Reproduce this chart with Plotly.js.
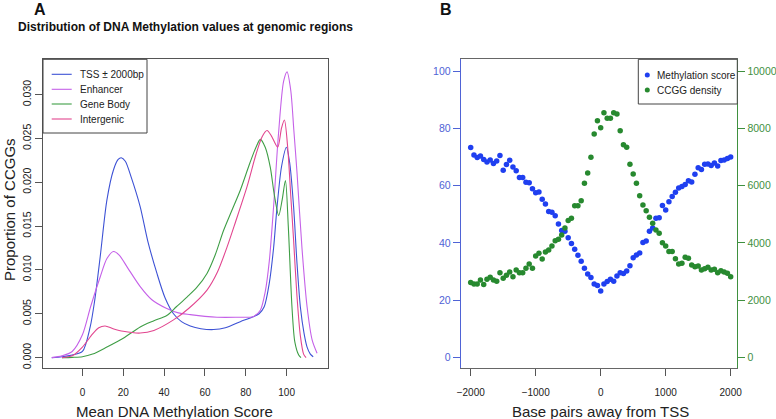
<!DOCTYPE html>
<html>
<head>
<meta charset="utf-8">
<script src="https://cdn.plot.ly/plotly-3.0.1.min.js"></script>
<style>html,body{margin:0;padding:0;background:#fff}#chart{width:776px;height:419px}</style>
</head>
<body>
<div id="chart"></div>
<script>
// ---------- Panel A: density curves ----------
const seriesNamesA = ["TSS \u00b1 2000bp", "Enhancer", "Gene Body", "Intergenic"];
const tssX = [-15,-10,-5,0,3.8,6,8.7,12,15.2,17.5,19,21,24,28.3,32,36.5,40.5,44.6,48.5,52.8,58,64.2,70,77.3,83,86.5,89,91.5,93.6,95.3,97.5,99.9,101.5,103.4,105,106.7,108.5,110,111.6,113];
const tssY = [0,0.0001,0.0003,0.0007,0.0035,0.0065,0.0115,0.018,0.0214,0.0226,0.0228,0.0224,0.0205,0.0172,0.0133,0.0096,0.0068,0.005,0.0041,0.0036,0.0033,0.0032,0.0034,0.0041,0.0046,0.005,0.0058,0.0085,0.0125,0.0172,0.0218,0.024,0.0222,0.0172,0.011,0.0058,0.0028,0.0012,0.0004,0.0001];
const enhX = [-15,-10,-5,0,4,8.7,12,15.2,18,22,28.3,34,41.3,47,52.8,60,65.9,75,83.8,87.1,89.5,91.5,93.6,96,98.5,100.2,102,103.5,105.1,107.5,110,112.5,114.9];
const enhY = [0,0.0002,0.0007,0.0026,0.0058,0.0092,0.0113,0.0121,0.0117,0.0103,0.0081,0.0066,0.0056,0.0051,0.0049,0.0047,0.0046,0.0046,0.0047,0.0054,0.0075,0.011,0.0172,0.0255,0.0315,0.0326,0.0305,0.026,0.021,0.0125,0.0058,0.002,0.0005];
const gbX = [-10,-5,0,5,12,20,28.3,35,41.3,46,51.2,56,61,65,69.1,73,77.3,82,85,87.1,89.5,92,94,96.1,97.8,99.4,100.8,102.6,104,105.9,107];
const gbY = [0,0.00003,0.0001,0.0004,0.0012,0.0022,0.0035,0.0042,0.0048,0.0058,0.0069,0.008,0.0096,0.0117,0.0145,0.0167,0.0191,0.0222,0.024,0.0249,0.024,0.0217,0.0185,0.0162,0.018,0.0202,0.015,0.0058,0.0018,0.0003,0];
const igX = [-10,-5,0,5,8,11.1,15,20,28.3,35,44.6,52,61,66,70.8,75,80.6,85,88,90.4,92.5,95.6,97.5,98.9,100.5,102,103.4,105,106.7,108.3,109.5];
const igY = [0,0.0002,0.0012,0.0027,0.0034,0.0036,0.0033,0.003,0.0028,0.0031,0.0043,0.0056,0.0077,0.0097,0.0126,0.0155,0.0195,0.0232,0.0252,0.0259,0.0253,0.024,0.0262,0.0271,0.024,0.0185,0.0134,0.0072,0.0025,0.0004,0];
const xTicksA = [0,20,40,60,80,100];
const yTicksA = [0,0.005,0.01,0.015,0.02,0.025,0.03];

// ---------- Panel B: scatter ----------
const seriesNamesB = ["Methylation score", "CCGG density"];
const bpPos = [-2000,-1950,-1900,-1850,-1800,-1750,-1700,-1650,-1600,-1550,-1500,-1450,-1400,-1350,-1300,-1250,-1200,-1150,-1100,-1050,-1000,-950,-900,-850,-800,-750,-700,-650,-600,-550,-500,-450,-400,-350,-300,-250,-200,-150,-100,-50,0,50,100,150,200,250,300,350,400,450,500,550,600,650,700,750,800,850,900,950,1000,1050,1100,1150,1200,1250,1300,1350,1400,1450,1500,1550,1600,1650,1700,1750,1800,1850,1900,1950,2000];
const methScore = [73.4,70.7,69.9,70.4,69.2,68.3,69.0,67.8,68.6,70.6,65.4,67.4,68.9,66.5,65.2,62.9,62.9,61.2,61.0,58.9,57.5,57.8,55.3,53.6,51.0,50.7,49.5,46.6,44.3,44.1,41.8,39.8,37.8,35.7,33.6,31.1,29.1,27.9,25.6,25.1,23.2,25.6,26.5,27.3,26.6,28.4,29.6,29.3,30.2,32.0,34.8,35.8,36.5,40.1,40.7,44.1,45.2,48.6,48.8,53.1,51.5,54.4,56.2,57.7,59.2,59.7,60.4,61.7,61.3,64.0,66.3,65.7,67.5,67.6,67.1,67.9,66.9,68.8,69.0,69.5,70.0];
const ccggDensity = [2611,2564,2564,2704,2541,2727,2797,2704,2657,2960,2762,2867,2984,2820,3054,2960,2960,3112,3263,3112,3543,3636,3438,3683,3753,3893,4079,4126,4277,4522,4779,4860,5303,5303,5478,6084,6445,6993,7809,8275,8030,8555,8357,8357,8555,8508,7925,7436,7343,6748,6410,6084,5653,5326,5128,4895,4685,4452,4336,4009,3893,3695,3695,3450,3263,3287,3497,3462,3228,3170,3193,3054,3100,3147,3054,3077,2960,3030,2984,2937,2820];
const xTicksB = [-2000,-1000,0,1000,2000];
const yTicksLeftB = [0,20,40,60,80,100];
const yTicksRightB = [0,2000,4000,6000,8000,10000];
const yTickTextRightB = ["0","2000","4000","6000","8000","10000"];

// ---------- styling ----------
const W = 776, H = 419;
const FONT = "Liberation Sans, Arial, Helvetica, sans-serif";
const colA = ["#3d52d5", "#c561e8", "#3f9e46", "#e2468f"];
const colMeth = "#1f3ff0", colCcgg = "#27892f";
const axLeftB = "#4f63d6", axRightB = "#3f903f";
const px = v => v / W, py = v => 1 - v / H;

const domAx = [px(43), px(327.5)];
const domBx = [px(460.7), px(737.3)];
const domY = [py(368.3), py(59.3)];

const lineTrace = (x, y, name, color) => ({
  type: "scatter", mode: "lines", x: x, y: y, name: name,
  line: {color: color, width: 1.1, shape: "spline", smoothing: 0.8},
  xaxis: "x", yaxis: "y", showlegend: false, hoverinfo: "skip"
});

const traces = [
  lineTrace(tssX, tssY, seriesNamesA[0], colA[0]),
  lineTrace(enhX, enhY, seriesNamesA[1], colA[1]),
  lineTrace(gbX, gbY, seriesNamesA[2], colA[2]),
  lineTrace(igX, igY, seriesNamesA[3], colA[3]),
  {type: "scatter", mode: "markers", x: bpPos, y: methScore, name: seriesNamesB[0],
   marker: {color: colMeth, size: 5.5}, xaxis: "x2", yaxis: "y2", showlegend: false},
  {type: "scatter", mode: "markers", x: bpPos, y: ccggDensity, name: seriesNamesB[1],
   marker: {color: colCcgg, size: 5.5}, xaxis: "x2", yaxis: "y3", showlegend: false}
];

const tickFont = {family: FONT, size: 10, color: "#222"};
const layout = {
  width: W, height: H,
  margin: {l: 0, r: 0, t: 0, b: 0},
  paper_bgcolor: "#fff", plot_bgcolor: "#fff",
  font: {family: FONT, color: "#222"},
  showlegend: false,
  xaxis: {domain: domAx, anchor: "y", range: [-19.3, 120], tickvals: xTicksA,
    showgrid: false, zeroline: false, showline: true, mirror: true, linecolor: "#555", linewidth: 1,
    ticks: "outside", ticklen: 7, tickcolor: "#555", tickfont: tickFont, ticklabelstandoff: 8, automargin: false},
  yaxis: {domain: domY, anchor: "x", range: [-0.00122, 0.03403], tickvals: yTicksA, tickformat: ".3f",
    tickangle: -90, showgrid: false, zeroline: false, showline: true, mirror: true, linecolor: "#555", linewidth: 1,
    ticks: "outside", ticklen: 7, tickcolor: "#555", tickfont: {family: FONT, size: 10.5, color: "#222"}, automargin: false},
  xaxis2: {domain: domBx, anchor: "y2", range: [-2154, 2102], tickvals: xTicksB,
    showgrid: false, zeroline: false, showline: true, mirror: true, linecolor: "#666", linewidth: 1,
    ticks: "outside", ticklen: 7, tickcolor: "#555", tickfont: tickFont, ticklabelstandoff: 8, automargin: false},
  yaxis2: {domain: domY, anchor: "x2", range: [-3.85, 104.2], tickvals: yTicksLeftB,
    showgrid: false, zeroline: false, showline: true, linecolor: axLeftB, linewidth: 1,
    ticks: "outside", ticklen: 7, tickcolor: axLeftB, tickfont: {family: FONT, size: 10.5, color: axLeftB}, automargin: false},
  yaxis3: {domain: domY, anchor: "x2", overlaying: "y2", side: "right", range: [-385, 10420],
    tickvals: yTicksRightB, ticktext: yTickTextRightB,
    showgrid: false, zeroline: false, showline: true, linecolor: axRightB, linewidth: 1,
    ticks: "outside", ticklen: 7, tickcolor: axRightB, tickfont: {family: FONT, size: 10.5, color: axRightB}, automargin: false},
  shapes: [],
  annotations: []
};

const ann = (text, x, y, opts) => Object.assign({
  text: text, xref: "paper", yref: "paper", x: px(x), y: py(y), showarrow: false,
  xanchor: "center", yanchor: "middle", borderpad: 0, font: {family: FONT, size: 10, color: "#222"}
}, opts || {});

layout.annotations.push(
  ann("<b>A</b>", 40, 0.5, {yanchor: "top", font: {family: FONT, size: 16, color: "#111"}}),
  ann("<b>B</b>", 446, 0.5, {yanchor: "top", font: {family: FONT, size: 16, color: "#111"}}),
  ann("<b>Distribution of DNA Methylation values at genomic regions</b>", 185.5, 27.5, {font: {family: FONT, size: 12, color: "#111"}}),
  ann("Mean DNA Methylation Score", 174, 411, {font: {family: FONT, size: 15, color: "#222"}}),
  ann("Proportion of CCGGs", 9, 210, {textangle: -90, font: {family: FONT, size: 15, color: "#222"}}),
  ann("Base pairs away from TSS", 600, 411, {font: {family: FONT, size: 15, color: "#222"}})
);

// Legend A (box, line samples, labels)
layout.shapes.push({type: "rect", xref: "paper", yref: "paper", x0: px(43), x1: px(147), y0: py(133), y1: py(59.3), line: {color: "#444", width: 1}, fillcolor: "#fff", layer: "above"});
const legYA = [74.3, 89.3, 104, 119];
seriesNamesA.forEach((n, i) => {
  layout.shapes.push({type: "line", xref: "paper", yref: "paper", x0: px(51.7), x1: px(71.7), y0: py(legYA[i]), y1: py(legYA[i]), line: {color: colA[i], width: 1.1}, layer: "above"});
  layout.annotations.push(ann(n, 79.3, legYA[i], {xanchor: "left", font: {family: FONT, size: 10, color: "#222"}}));
});

// Legend B
layout.shapes.push({type: "rect", xref: "paper", yref: "paper", x0: px(638.3), x1: px(737.3), y0: py(104), y1: py(59.3), line: {color: "#444", width: 1}, fillcolor: "#fff", layer: "above"});
const legYB = [75, 90];
const legColB = [colMeth, colCcgg];
seriesNamesB.forEach((n, i) => {
  const r = 2.5;
  layout.shapes.push({type: "circle", xref: "paper", yref: "paper", x0: px(647.3 - r), x1: px(647.3 + r), y0: py(legYB[i] + r), y1: py(legYB[i] - r), line: {width: 0}, fillcolor: legColB[i], layer: "above"});
  layout.annotations.push(ann(n, 655.5, legYB[i], {xanchor: "left", font: {family: FONT, size: 10, color: "#222"}}));
});

Plotly.newPlot("chart", traces, layout, {displayModeBar: false, staticPlot: true});
</script>
</body>
</html>
